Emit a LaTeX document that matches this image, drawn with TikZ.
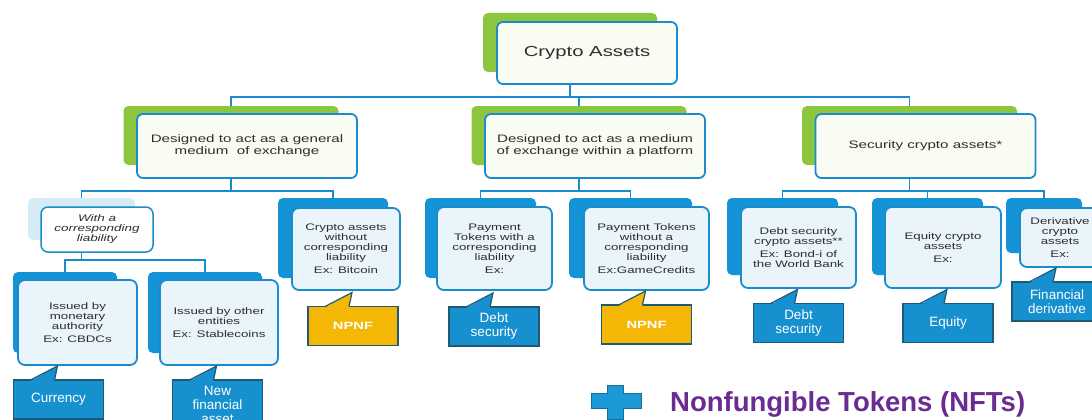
\documentclass[tikz,border=0pt]{standalone}
\usepackage{fontspec}
\setmainfont{Liberation Sans}
\newfontfamily\boxfont[FakeStretch=1.4]{Liberation Sans}
\usetikzlibrary{positioning,calc}

\definecolor{leafgreen}{HTML}{8CC63F}
\definecolor{lineblue}{HTML}{1B8CCB}
\definecolor{backblue}{HTML}{1494D6}
\definecolor{paleblue}{HTML}{D5EBF7}
\definecolor{frontfill}{HTML}{EAF4FB}
\definecolor{callblue}{HTML}{1790D0}
\definecolor{calledge}{HTML}{1E5A74}
\definecolor{npnfyellow}{HTML}{F5B705}
\definecolor{textgray}{HTML}{2E2E2E}
\definecolor{nftpurple}{HTML}{6A2C91}
\definecolor{plusblue}{HTML}{1B9AD7}
\definecolor{plusedge}{HTML}{176E9A}

\begin{document}
\begin{tikzpicture}[x=1pt, y=-1pt,
    conn/.style={draw=lineblue, line width=1.8pt},
    greenback/.style={fill=leafgreen, rounded corners=5pt, inner sep=0pt, outer sep=0pt, minimum width=215, minimum height=59},
    topbox/.style={draw=lineblue, line width=1.8pt, fill=white!94!leafgreen, rounded corners=6pt, inner sep=0pt, outer sep=0pt, align=center, text=textgray, minimum width=220, minimum height=64, font=\boxfont\fontsize{10.8}{12}\selectfont},
    blueback/.style={fill=backblue, rounded corners=5pt, inner sep=0pt, outer sep=0pt},
    paleback/.style={blueback, fill=paleblue},
    subbox/.style={draw=lineblue, line width=1.8pt, fill=frontfill, rounded corners=7pt, inner sep=0pt, outer sep=0pt, align=center, text=textgray, font=\boxfont\fontsize{9.5}{10}\selectfont},
    callout/.style={draw=calledge, line width=1.2pt, fill=callblue, inner sep=0pt, outer sep=0pt, align=center, text=white, minimum width=90, minimum height=39, font=\fontsize{13.5}{14}\selectfont},
    npnf/.style={callout, fill=npnfyellow, font=\boxfont\bfseries\fontsize{10.5}{12}\selectfont}
]
\useasboundingbox[fill=white] (0,0) rectangle (1092,420);
\clip (0,0) rectangle (1092,420);

% root
\node[greenback, minimum width=174] (rootb) at (570,42.5) {};
\node[topbox, minimum width=180, minimum height=62, font=\boxfont\fontsize{14.5}{16}\selectfont] (root) at (587,53) {Crypto Assets};

% second level
\node[greenback] (genb) at (231,135.5) {};
\node[topbox] (gen) at (247,146) {Designed to act as a general\\medium\ \ of exchange};
\node[greenback] (platb) at (579,135.5) {};
\node[topbox] (plat) at (595,146) {Designed to act as a medium\\of exchange within a platform};
\node[greenback] (secb) at (909.5,135.5) {};
\node[topbox] (sec) at (925.5,146) {Security crypto assets*};

% third level
\node[paleback, minimum width=107, minimum height=42] (withb) at (81.5,219) {};
\node[subbox, fill=white, line width=1.5pt, minimum width=112, minimum height=45, font=\boxfont\itshape\fontsize{9.6}{10}\selectfont] (with) at (97,229.5) {With a\\corresponding\\liability};
\node[blueback, minimum width=110, minimum height=80] (nolb) at (333,238) {};
\node[subbox, minimum width=108, minimum height=82] (nol) at (346,249) {Crypto assets\\without\\corresponding\\liability\\[3pt]Ex: Bitcoin};
\node[blueback, minimum width=111, minimum height=80] (ptwb) at (480.5,238) {};
\node[subbox, minimum width=115, minimum height=83] (ptw) at (494.5,248.5) {Payment\\Tokens with a\\corresponding\\liability\\[3pt]Ex:};
\node[blueback, minimum width=123, minimum height=80] (ptob) at (630.5,238) {};
\node[subbox, minimum width=125, minimum height=83] (pto) at (646.5,248.5) {Payment Tokens\\without a\\corresponding\\liability\\[3pt]Ex:GameCredits};
\node[blueback, minimum width=111, minimum height=77] (debtb) at (782.5,236.5) {};
\node[subbox, minimum width=115, minimum height=81] (debt) at (798.5,247.5) {Debt security\\crypto assets**\\[3pt]Ex: Bond-i of\\the World Bank};
\node[blueback, minimum width=111, minimum height=77] (eqb) at (927.5,236.5) {};
\node[subbox, minimum width=116, minimum height=81] (eq) at (943,247.5) {Equity crypto\\assets\\[3pt]Ex:};
\node[blueback, minimum width=76, minimum height=55] (derb) at (1044,225.5) {};
\node[subbox, minimum width=80, minimum height=59] (der) at (1060,237.5) {Derivative\\crypto\\assets\\[3pt]Ex:};

% fourth level
\node[blueback, minimum width=104, minimum height=81] (monb) at (65,312.5) {};
\node[subbox, minimum width=119, minimum height=85] (mon) at (77.5,322.5) {Issued by\\monetary\\authority\\[3pt]Ex: CBDCs};
\node[blueback, minimum width=114, minimum height=81] (othb) at (205,312.5) {};
\node[subbox, minimum width=118, minimum height=85] (oth) at (219,322.5) {Issued by other\\entities\\[3pt]Ex: Stablecoins};

% connectors
\draw[conn] (rootb.south |- root.south) -- ++(0,13) coordinate (j0);
\draw[conn] (j0) -| (genb.north);
\draw[conn] (j0) -| (platb.north);
\draw[conn] (j0) -| (secb.north);
\draw[conn] (genb.south |- gen.south) -- ++(0,13) coordinate (j1);
\draw[conn] (j1) -| (withb.north);
\draw[conn] (j1) -| (nolb.north);
\draw[conn] (platb.south |- plat.south) -- ++(0,13) coordinate (j2);
\draw[conn] (j2) -| (ptwb.north);
\draw[conn] (j2) -| (ptob.north);
\draw[conn] (secb.south |- sec.south) -- ++(0,13) coordinate (j3);
\draw[conn] (j3) -| (debtb.north);
\draw[conn] (j3) -| (eqb.north);
\draw[conn] (j3) -| (derb.north);
\draw[conn] (withb.south |- with.south) -- ++(0,8) coordinate (j4);
\draw[conn] (j4) -| (monb.north);
\draw[conn] (j4) -| (othb.north);

% callouts
\node[callout] (cur) at (58.5,399.5) {Currency};
\node[callout, minimum height=50] (nfa) at (217.5,405) {New\\financial\\asset};
\node[npnf] (np1) at (353,326) {NPNF};
\node[callout] (ds1) at (494,326.5) {Debt\\security};
\node[npnf] (np2) at (646.5,324.5) {NPNF};
\node[callout] (ds2) at (798.5,323) {Debt\\security};
\node[callout] (eqc) at (948,323) {Equity};
\node[callout] (fdc) at (1057,301.5) {Financial\\derivative};

\foreach \c in {cur,nfa,ds1,ds2,eqc,fdc} {
  \fill[callblue] ([xshift=17pt,yshift=-1pt]\c.north west) -- ([shift={(44pt,14pt)}]\c.north west) -- ([xshift=41pt,yshift=-1pt]\c.north west) -- cycle;
  \draw[calledge, line width=1.2pt] ([xshift=17pt]\c.north west) -- ([shift={(44pt,14pt)}]\c.north west) -- ([xshift=41pt]\c.north west);
}
\foreach \c in {np1,np2} {
  \fill[npnfyellow] ([xshift=17pt,yshift=-1pt]\c.north west) -- ([shift={(44pt,14pt)}]\c.north west) -- ([xshift=41pt,yshift=-1pt]\c.north west) -- cycle;
  \draw[calledge, line width=1.2pt] ([xshift=17pt]\c.north west) -- ([shift={(44pt,14pt)}]\c.north west) -- ([xshift=41pt]\c.north west);
}

% NFT line
\filldraw[fill=plusblue, draw=plusedge, line width=0.8pt] (607,385) -- (623,385) -- (623,393) -- (641,393) -- (641,408) -- (623,408) -- (623,419) -- (607,419) -- (607,408) -- (591,408) -- (591,393) -- (607,393) -- cycle;
\node[anchor=west, inner sep=0pt, text=nftpurple, font=\bfseries\fontsize{27.5}{30}\selectfont] (nft) at (670,404) {Nonfungible Tokens (NFTs)};
\end{tikzpicture}
\end{document}
